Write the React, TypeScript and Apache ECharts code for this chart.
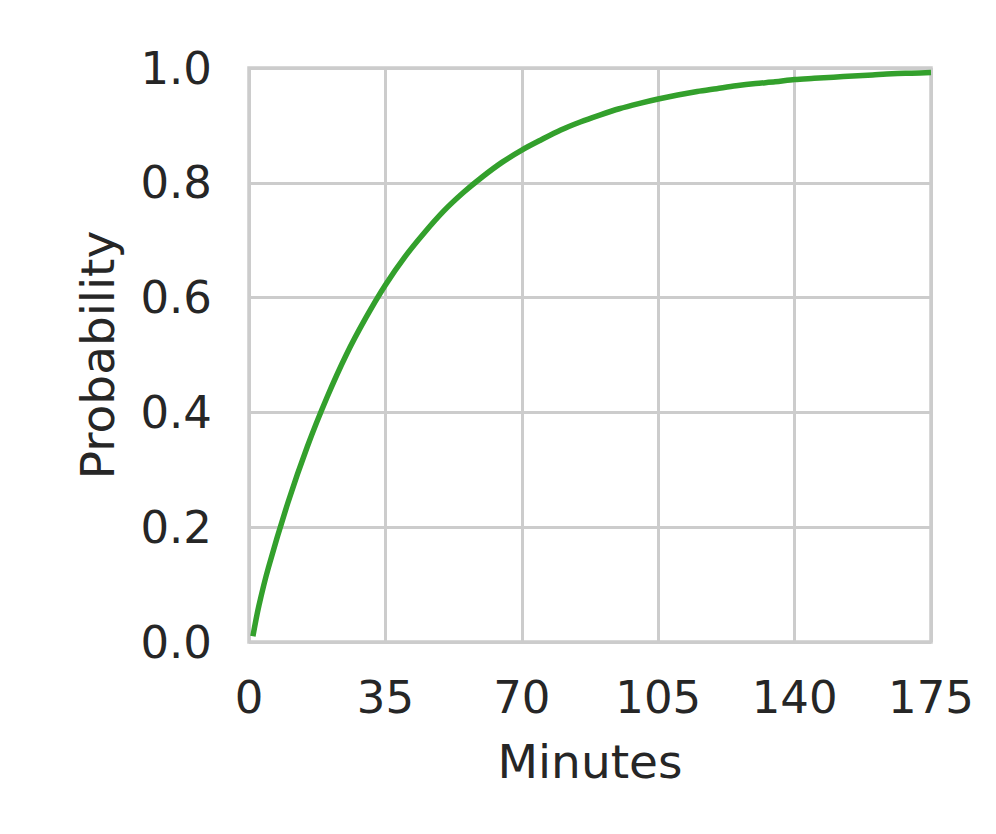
import React, { useEffect, useRef } from "react";
import * as echarts from "echarts";

const minutes = [1, 2.5, 5, 10, 15, 20, 25, 30, 35, 40, 45, 50, 55, 60, 65, 70, 75, 80, 85, 90, 95, 100, 105, 110, 115, 120, 125, 130, 135, 140, 145, 150, 155, 160, 165, 170, 175];
const probability = [0.01, 0.062, 0.13, 0.243, 0.341, 0.426, 0.501, 0.565, 0.622, 0.671, 0.713, 0.751, 0.783, 0.811, 0.836, 0.857, 0.875, 0.892, 0.906, 0.918, 0.929, 0.938, 0.946, 0.953, 0.959, 0.964, 0.969, 0.973, 0.976, 0.98, 0.982, 0.984, 0.986, 0.988, 0.99, 0.991, 0.992];
const xTicks = [0, 35, 70, 105, 140, 175];
const yTicks = [0, 0.2, 0.4, 0.6, 0.8, 1.0];

const FONT = "DejaVu Sans";
const TEXT = "#262626";
const GRID = "#cccccc";

export default function App() {
  const ref = useRef<HTMLDivElement>(null);
  useEffect(() => {
    if (!ref.current) return;
    const chart = echarts.init(ref.current, undefined, { renderer: "svg" });
    chart.setOption({
      animation: false,
      backgroundColor: "#ffffff",
      grid: { left: 249, right: 65, top: 68, bottom: 192, show: true, borderColor: GRID, borderWidth: 3.5, backgroundColor: "transparent" },
      xAxis: {
        type: "value",
        min: xTicks[0],
        max: xTicks[xTicks.length - 1],
        interval: 35,
        name: "Minutes",
        nameLocation: "middle",
        nameGap: 96,
        nameTextStyle: { fontFamily: FONT, fontSize: 47, color: TEXT },
        axisLine: { show: false },
        axisTick: { show: false },
        axisLabel: { fontFamily: FONT, fontSize: 45, color: TEXT, margin: 33, formatter: (v: number) => String(v) },
        splitLine: { show: true, lineStyle: { color: GRID, width: 3 } },
      },
      yAxis: {
        type: "value",
        min: yTicks[0],
        max: yTicks[yTicks.length - 1],
        interval: 0.2,
        name: "Probability",
        nameLocation: "middle",
        nameGap: 128,
        nameTextStyle: { fontFamily: FONT, fontSize: 47, color: TEXT },
        axisLine: { show: false },
        axisTick: { show: false },
        axisLabel: { fontFamily: FONT, fontSize: 45, color: TEXT, margin: 37, formatter: (v: number) => v.toFixed(1) },
        splitLine: { show: true, lineStyle: { color: GRID, width: 3 } },
      },
      series: [
        {
          type: "line",
          data: minutes.map((m, i) => [m, probability[i]]),
          smooth: 0.3,
          showSymbol: false,
          lineStyle: { color: "#33a02c", width: 5.5 },
        },
      ],
    });
    return () => chart.dispose();
  }, []);
  return <div ref={ref} style={{ position: "fixed", left: 0, top: 0, width: 996, height: 834 }} />;
}
